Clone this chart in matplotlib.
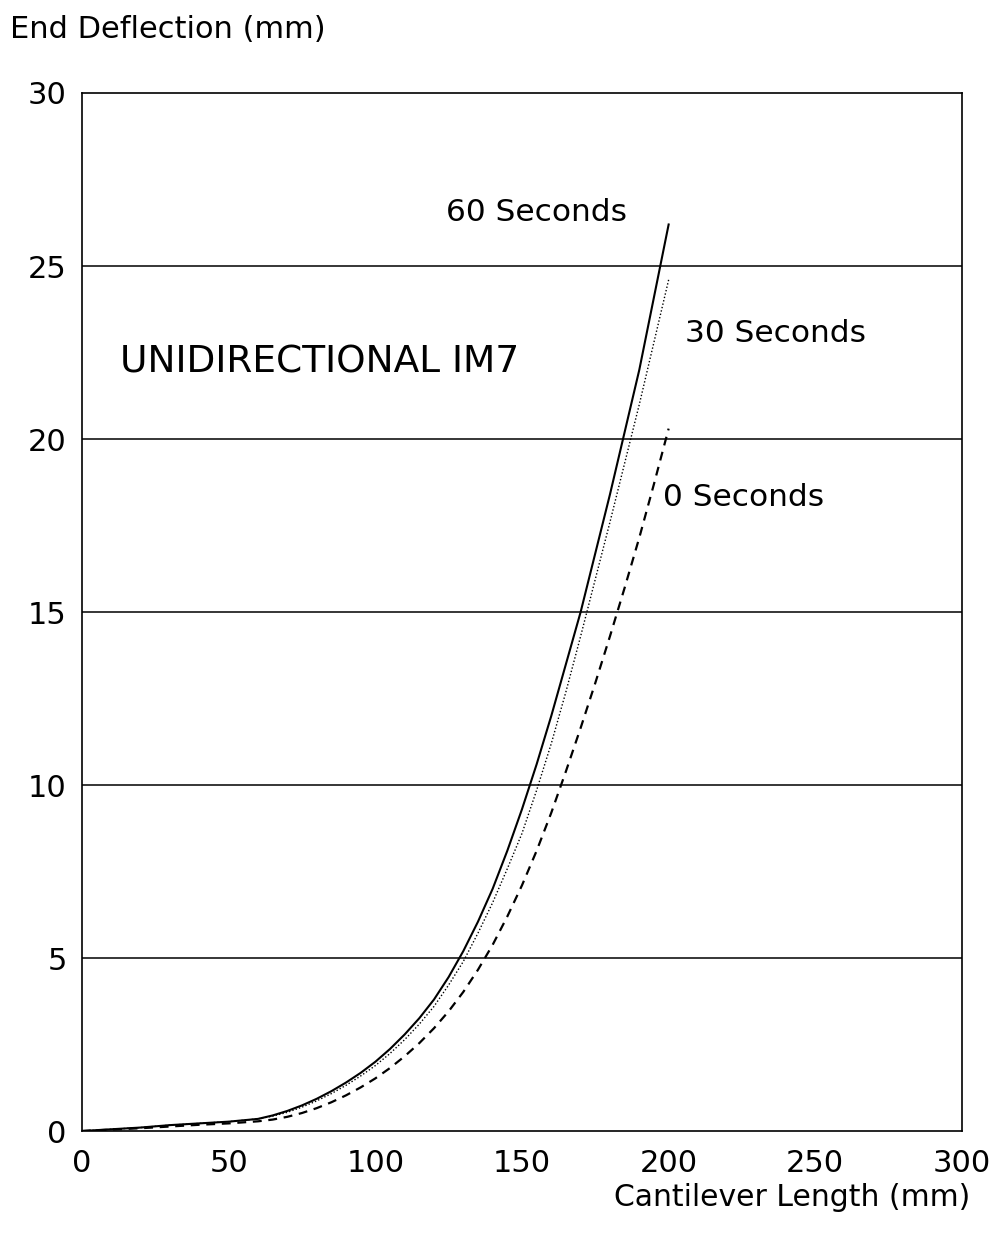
import numpy as np
import matplotlib
matplotlib.use("Agg")
import matplotlib.pyplot as plt

plt.rcParams['font.family'] = ['DejaVu Sans']

# cantilever length (mm)
length = [0, 10, 20, 30, 40, 50, 60, 65, 70, 75, 80, 85, 90, 95, 100, 105, 110, 115, 120, 125,
          130, 135, 140, 145, 150, 155, 160, 165, 170, 175, 180, 185, 190, 195, 200]
# end deflection (mm)
defl_60s = [0, 0.05, 0.1, 0.17, 0.22, 0.27, 0.35, 0.45, 0.58, 0.74, 0.93, 1.15, 1.4, 1.68, 2.0, 2.37, 2.79, 3.26, 3.8, 4.45,
            5.2, 6.05, 7.0, 8.1, 9.3, 10.6, 12.0, 13.5, 15.0, 16.7, 18.4, 20.2, 22.0, 24.1, 26.2]
defl_30s = [0, 0.05, 0.1, 0.17, 0.22, 0.27, 0.35, 0.43, 0.54, 0.69, 0.87, 1.08, 1.32, 1.59, 1.89, 2.24, 2.64, 3.09, 3.6, 4.22,
            4.9, 5.72, 6.6, 7.58, 8.6, 9.85, 11.2, 12.7, 14.3, 15.95, 17.6, 19.3, 21.0, 22.8, 24.6]
defl_0s = [0, 0.04, 0.08, 0.13, 0.18, 0.22, 0.28, 0.33, 0.41, 0.52, 0.66, 0.83, 1.03, 1.26, 1.52, 1.82, 2.16, 2.54, 2.97, 3.46,
           4.02, 4.66, 5.38, 6.2, 7.1, 8.1, 9.2, 10.4, 11.65, 12.95, 14.3, 15.7, 17.15, 18.7, 20.3]

x_ticks = [0, 50, 100, 150, 200, 250, 300]
y_ticks = [0, 5, 10, 15, 20, 25, 30]

fig = plt.figure(figsize=(9.95, 12.4), dpi=100)
ax = fig.add_axes([0.0824, 0.0879, 0.8844, 0.8371])

# horizontal reference lines at every labelled value except the frame
for yv in y_ticks[1:-1]:
    ax.axhline(yv, color='black', lw=1.1, zorder=1)

ax.plot(length, defl_60s, color='black', lw=1.5, ls='-', zorder=3)
ax.plot(length, defl_30s, color='black', lw=1.0, ls=(0, (1, 1.5)), zorder=3)
ax.plot(length, defl_0s, color='black', lw=1.6, ls=(0, (4, 3)), zorder=3)

ax.set_xlim(0, 300)
ax.set_ylim(0, 30)
ax.set_xticks(x_ticks)
ax.set_yticks(y_ticks)
ax.tick_params(length=0, labelsize=22, colors='black')
ax.tick_params(axis='x', pad=13)
ax.tick_params(axis='y', pad=11)
for s in ax.spines.values():
    s.set_linewidth(1.2)
    s.set_color('black')

ax.text(124, 26.56, '60 Seconds', fontsize=22.5, ha='left', va='center')
ax.text(205.6, 23.06, '30 Seconds', fontsize=22.5, ha='left', va='center')
ax.text(198.1, 18.32, '0 Seconds', fontsize=22.5, ha='left', va='center')
ax.text(13, 22.2, 'UNIDIRECTIONAL IM7', fontsize=27, ha='left', va='center')

fig.text(10 / 995, 1 - 30 / 1240, 'End Deflection (mm)', fontsize=22, ha='left', va='center')
fig.text(970 / 995, 1 - 1197 / 1240, 'Cantilever Length (mm)', fontsize=21.5, ha='right', va='center')

fig.savefig('out.png', dpi=100)
